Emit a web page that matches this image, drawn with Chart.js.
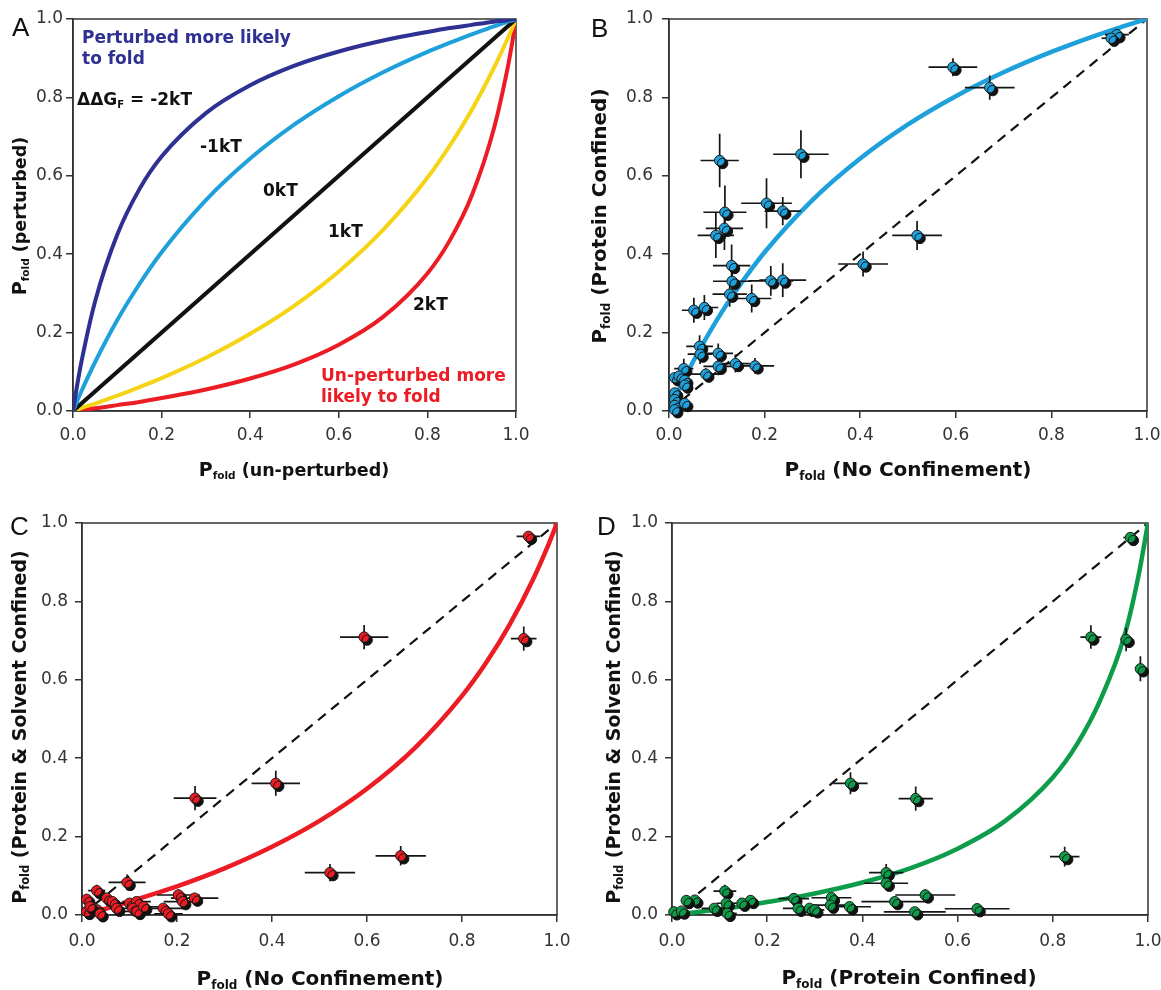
<!DOCTYPE html>
<html>
<head>
<meta charset="utf-8">
<script src="https://cdn.jsdelivr.net/npm/chart.js@4.4.1/dist/chart.umd.min.js"></script>
<style>
body { margin: 0; background: #fff; }
#wrap { position: relative; width: 1161px; height: 990px; overflow: hidden; font-family: "DejaVu Sans", Verdana, sans-serif; }
canvas { position: absolute; }
.t { position: absolute; white-space: nowrap; font-weight: bold; line-height: 1; color: #111; }
.ax { transform: translate(-50%, -50%); }
.ay { transform: translate(-50%, -50%) rotate(-90deg); }
.lt { transform: translate(0, -50%); }
.sub { position: relative; top: 0.3em; }
.letter { position: absolute; font-family: "Liberation Sans", Arial, sans-serif; font-size: 26px; line-height: 1; transform: translate(0, -50%); color: #111; }
</style>
</head>
<body>
<div id="wrap">
  <canvas id="cA" width="560" height="490" style="left:0;top:0"></canvas>
  <canvas id="cB" width="581" height="490" style="left:580px;top:0"></canvas>
  <canvas id="cC" width="580" height="490" style="left:0;top:500px"></canvas>
  <canvas id="cD" width="581" height="490" style="left:580px;top:500px"></canvas>

  <div class="letter" style="left:12px;top:27px">A</div>
  <div class="letter" style="left:591px;top:28px">B</div>
  <div class="letter" style="left:10px;top:526px">C</div>
  <div class="letter" style="left:597px;top:526px">D</div>

  <!-- panel A text -->
  <div class="t ax" style="left:294px;top:470px;font-size:17.5px"><span style="font-size:19px">P</span><span class="sub" style="font-size:10.5px">fold</span> (un-perturbed)</div>
  <div class="t ay" style="left:20px;top:216px;font-size:17.5px"><span style="font-size:19px">P</span><span class="sub" style="font-size:10.5px">fold</span> (perturbed)</div>
  <div class="t lt" style="left:82px;top:37px;font-size:17px;color:#2e3192">Perturbed more likely</div>
  <div class="t lt" style="left:82px;top:58px;font-size:17px;color:#2e3192">to fold</div>
  <div class="t lt" style="left:77px;top:99px;font-size:17px">&Delta;&Delta;G<span class="sub" style="font-size:10px">F</span> = -2kT</div>
  <div class="t lt" style="left:200px;top:146px;font-size:17px">-1kT</div>
  <div class="t lt" style="left:263px;top:190px;font-size:17px">0kT</div>
  <div class="t lt" style="left:328px;top:231px;font-size:17px">1kT</div>
  <div class="t lt" style="left:413px;top:304px;font-size:17px">2kT</div>
  <div class="t lt" style="left:321px;top:375px;font-size:17px;color:#ec1c24">Un-perturbed more</div>
  <div class="t lt" style="left:321px;top:396px;font-size:17px;color:#ec1c24">likely to fold</div>

  <!-- panel B text -->
  <div class="t ax" style="left:908px;top:469px;font-size:20px"><span>P</span><span class="sub" style="font-size:12px">fold</span> (No Confinement)</div>
  <div class="t ay" style="left:599px;top:216px;font-size:20px"><span>P</span><span class="sub" style="font-size:12px">fold</span> (Protein Confined)</div>

  <!-- panel C text -->
  <div class="t ax" style="left:320px;top:978px;font-size:20px"><span>P</span><span class="sub" style="font-size:12px">fold</span> (No Confinement)</div>
  <div class="t ay" style="left:19px;top:727px;font-size:19px"><span>P</span><span class="sub" style="font-size:11.5px">fold</span> (Protein &amp; Solvent Confined)</div>

  <!-- panel D text -->
  <div class="t ax" style="left:909px;top:977px;font-size:20px"><span>P</span><span class="sub" style="font-size:12px">fold</span> (Protein Confined)</div>
  <div class="t ay" style="left:613px;top:727px;font-size:19px"><span>P</span><span class="sub" style="font-size:11.5px">fold</span> (Protein &amp; Solvent Confined)</div>
</div>

<script>
// tick values shared by every axis
const tickVals = [0, 0.2, 0.4, 0.6, 0.8, 1.0];

// identity / dashed diagonal
const diagX = [0, 1];
const diagY = [0, 1];

// Panel A: theoretical curves
const aX      = [0, 0.01, 0.02, 0.05, 0.1, 0.15, 0.2, 0.3, 0.4, 0.5, 0.6, 0.7, 0.8, 0.85, 0.9, 0.95, 0.98, 0.99, 1];
const aMinus2 = [0, 0.07, 0.131, 0.28, 0.45, 0.566, 0.649, 0.76, 0.831, 0.881, 0.917, 0.945, 0.967, 0.977, 0.985, 0.993, 0.997, 0.999, 1];
const aMinus1 = [0, 0.027, 0.053, 0.125, 0.232, 0.324, 0.405, 0.538, 0.644, 0.731, 0.803, 0.864, 0.916, 0.939, 0.961, 0.981, 0.993, 0.996, 1];
const aPlus1  = [0, 0.004, 0.008, 0.019, 0.039, 0.061, 0.084, 0.136, 0.197, 0.269, 0.356, 0.462, 0.595, 0.676, 0.768, 0.875, 0.947, 0.973, 1];
const aPlus2  = [0, 0.001, 0.003, 0.007, 0.015, 0.023, 0.033, 0.055, 0.083, 0.119, 0.169, 0.24, 0.351, 0.434, 0.549, 0.72, 0.869, 0.93, 1];

// Panel B: no confinement vs protein confined
const bX    = [0.937, 0.925, 0.594, 0.671, 0.106, 0.276, 0.204, 0.238, 0.117, 0.116, 0.098, 0.131, 0.519, 0.406, 0.132, 0.213, 0.238, 0.127, 0.173, 0.052, 0.074, 0.064, 0.065, 0.103, 0.103, 0.139, 0.180, 0.077, 0.031, 0.012, 0.021, 0.033, 0.033, 0.012, 0.012, 0.012, 0.012, 0.033];
const bY    = [0.960, 0.951, 0.877, 0.825, 0.639, 0.655, 0.530, 0.510, 0.507, 0.466, 0.448, 0.371, 0.448, 0.375, 0.331, 0.332, 0.334, 0.298, 0.287, 0.257, 0.264, 0.165, 0.145, 0.147, 0.114, 0.121, 0.115, 0.094, 0.108, 0.085, 0.089, 0.078, 0.066, 0.046, 0.029, 0.014, 0.003, 0.019];
const bXErr = [0.025, 0.02, 0.051, 0.052, 0.040, 0.058, 0.053, 0.038, 0.045, 0.039, 0.038, 0.039, 0.052, 0.052, 0.040, 0.047, 0.049, 0.036, 0.041, 0.025, 0.029, 0.028, 0.026, 0.031, 0.031, 0.030, 0.040, 0.033, 0.020, 0.012, 0.015, 0.015, 0.015, 0.005, 0, 0, 0, 0.01];
const bYErr = [0.008, 0, 0.023, 0.031, 0.068, 0.061, 0.064, 0.036, 0.068, 0.055, 0.058, 0.054, 0.037, 0.032, 0.030, 0.038, 0.043, 0.032, 0.036, 0.032, 0.032, 0.028, 0.025, 0.025, 0.023, 0.023, 0.020, 0.015, 0.025, 0.01, 0.01, 0.01, 0.01, 0.005, 0, 0, 0, 0.005];
const bCurveX = [0, 0.02, 0.05, 0.1, 0.15, 0.2, 0.3, 0.4, 0.5, 0.6, 0.7, 0.8, 0.9, 0.95, 1];
const bCurveY = [0, 0.053, 0.125, 0.232, 0.324, 0.405, 0.538, 0.644, 0.731, 0.803, 0.864, 0.916, 0.961, 0.981, 1];

// Panel C: no confinement vs protein & solvent confined
const cX    = [0.940, 0.594, 0.930, 0.408, 0.238, 0.671, 0.522, 0.095, 0.031, 0.010, 0.052, 0.064, 0.073, 0.010, 0.032, 0.017, 0.100, 0.115, 0.107, 0.116, 0.130, 0.203, 0.212, 0.237, 0.171, 0.182, 0.038];
const cY    = [0.966, 0.709, 0.705, 0.336, 0.298, 0.151, 0.108, 0.083, 0.062, 0.040, 0.043, 0.034, 0.017, 0.009, 0.013, 0.021, 0.030, 0.034, 0.017, 0.009, 0.021, 0.051, 0.034, 0.043, 0.017, 0.003, 0.003];
const cXErr = [0.025, 0.051, 0.027, 0.051, 0.045, 0.053, 0.053, 0.039, 0.018, 0.01, 0.015, 0.015, 0.015, 0, 0.01, 0.01, 0.03, 0.03, 0.03, 0.03, 0.03, 0.045, 0.04, 0.05, 0.045, 0.03, 0.01];
const cYErr = [0.005, 0.031, 0.031, 0.032, 0.031, 0.025, 0.022, 0.02, 0.015, 0.01, 0.01, 0.01, 0.01, 0, 0, 0, 0.01, 0.01, 0.01, 0.005, 0.01, 0.015, 0.01, 0.01, 0.01, 0, 0];
const cCurveX = [0, 0.05, 0.1, 0.15, 0.2, 0.3, 0.4, 0.5, 0.6, 0.7, 0.8, 0.85, 0.9, 0.95, 0.98, 1];
const cCurveY = [0, 0.016, 0.034, 0.053, 0.073, 0.119, 0.174, 0.24, 0.322, 0.425, 0.559, 0.642, 0.74, 0.857, 0.939, 1];

// Panel D: protein confined vs protein & solvent confined
const dX    = [0.963, 0.880, 0.954, 0.984, 0.375, 0.512, 0.825, 0.450, 0.450, 0.532, 0.468, 0.641, 0.510, 0.373, 0.335, 0.333, 0.256, 0.265, 0.289, 0.300, 0.165, 0.147, 0.111, 0.114, 0.116, 0.089, 0.048, 0.030, 0.004, 0.020];
const dY    = [0.963, 0.709, 0.703, 0.628, 0.336, 0.297, 0.149, 0.108, 0.081, 0.051, 0.034, 0.016, 0.008, 0.021, 0.044, 0.025, 0.042, 0.017, 0.017, 0.013, 0.037, 0.030, 0.061, 0.030, 0.004, 0.017, 0.038, 0.037, 0.008, 0.010];
const dXErr = [0.015, 0.022, 0.012, 0.008, 0.036, 0.036, 0.031, 0.036, 0.046, 0.063, 0.070, 0.068, 0.065, 0.045, 0.042, 0.044, 0.032, 0.032, 0.02, 0.02, 0.015, 0.015, 0.024, 0.02, 0.02, 0.027, 0.01, 0.01, 0, 0.005];
const dYErr = [0.005, 0.030, 0.030, 0.032, 0.028, 0.031, 0.025, 0.022, 0.015, 0.015, 0.01, 0.005, 0.005, 0.005, 0.01, 0.01, 0.01, 0.005, 0.005, 0, 0.01, 0.01, 0.016, 0.01, 0, 0.008, 0.01, 0.01, 0, 0];
const dCurveX = [0, 0.05, 0.1, 0.15, 0.2, 0.3, 0.4, 0.5, 0.6, 0.7, 0.8, 0.85, 0.9, 0.95, 0.98, 1];
const dCurveY = [0, 0.007, 0.015, 0.023, 0.033, 0.055, 0.083, 0.119, 0.169, 0.24, 0.351, 0.434, 0.549, 0.71, 0.865, 1];

const pts = (xs, ys) => xs.map((x, i) => ({x: x, y: ys[i]}));

// box round the plot area (top and right sides too)
const frame = {
    id: 'frame',
    beforeDatasetsDraw(chart) {
        const {ctx, chartArea: a} = chart;
        ctx.save();
        ctx.strokeStyle = '#333';
        ctx.lineWidth = 1.5;
        ctx.strokeRect(a.left, a.top, a.right - a.left, a.bottom - a.top);
        ctx.restore();
    }
};

// error bars under the points, then a hard black drop shadow for the points
const errBars = {
    id: 'errBars',
    beforeDatasetDraw(chart, args) {
        const ds = chart.data.datasets[args.index];
        if (!ds.errX) return;
        const ctx = chart.ctx;
        const xs = chart.scales.x, ys = chart.scales.y;
        ctx.save();
        ctx.strokeStyle = '#151515';
        ctx.lineWidth = 1.7;
        ds.data.forEach((p, i) => {
            const px = xs.getPixelForValue(p.x), py = ys.getPixelForValue(p.y);
            const ex = ds.errX[i], ey = ds.errY[i];
            ctx.beginPath();
            if (ex) { ctx.moveTo(xs.getPixelForValue(p.x - ex), py); ctx.lineTo(xs.getPixelForValue(p.x + ex), py); }
            if (ey) { ctx.moveTo(px, ys.getPixelForValue(p.y - ey)); ctx.lineTo(px, ys.getPixelForValue(p.y + ey)); }
            ctx.stroke();
        });
        ctx.restore();
        ctx.save();
        ctx.shadowColor = '#111';
        ctx.shadowOffsetX = 3;
        ctx.shadowOffsetY = 3;
        ctx.shadowBlur = 0;
    },
    afterDatasetDraw(chart, args) {
        const ds = chart.data.datasets[args.index];
        if (ds.errX) chart.ctx.restore();
    }
};

function axis(dir, fit, pad) {
    return {
        type: 'linear', min: 0, max: 1,
        afterBuildTicks: s => { s.ticks = tickVals.map(v => ({value: v})); },
        ticks: {
            callback: v => v.toFixed(1),
            font: {family: 'DejaVu Sans', size: 17},
            color: '#333', padding: pad, maxRotation: 0, autoSkip: false
        },
        grid: {drawOnChartArea: false, drawTicks: true, tickLength: 7, color: '#333', lineWidth: 1.5},
        border: {display: true, color: '#333', width: 1.5},
        afterFit: s => {
            if (dir === 'x') s.height = fit; else s.width = fit;
            // plot edges come from the layout padding only
            s.paddingLeft = 0; s.paddingRight = 0; s.paddingTop = 0; s.paddingBottom = 0;
        }
    };
}

function panel(id, o) {
    return new Chart(document.getElementById(id), {
        type: 'scatter',
        data: {datasets: o.datasets},
        options: {
            responsive: false,
            animation: false,
            devicePixelRatio: 1,
            layout: {padding: {top: o.top, right: o.right, left: 0, bottom: 0}},
            plugins: {legend: {display: false}, tooltip: {enabled: false}},
            scales: {x: axis('x', o.xh, o.xpad), y: axis('y', o.yw, o.ypad)}
        },
        plugins: [frame, errBars]
    });
}

function curve(xs, ys, color, width, order) {
    return {type: 'line', data: pts(xs, ys), borderColor: color, borderWidth: width, pointRadius: 0,
            showLine: true, fill: false, cubicInterpolationMode: 'monotone', order: order};
}
function dashed() {
    return {type: 'line', data: pts(diagX, diagY), borderColor: '#111', borderWidth: 2.2, borderDash: [10, 7],
            pointRadius: 0, showLine: true, fill: false, order: 5};
}
function points(xs, ys, ex, ey, color) {
    return {data: pts(xs, ys), errX: ex, errY: ey, backgroundColor: color, borderColor: '#1a1a1a',
            borderWidth: 1, pointRadius: 5.2, clip: false, order: 0};
}

const darkBlue = '#2e3192', lightBlue = '#1ea0da', yellow = '#f5d315', red = '#ec1c24', green = '#0d9c4a';

panel('cA', {
    top: 19, right: 44, xh: 79, yw: 73, xpad: 7, ypad: 3,
    datasets: [
        curve(aX, aMinus2, darkBlue, 4, 1),
        curve(aX, aMinus1, lightBlue, 4, 1),
        curve(diagX, diagY, '#111', 4, 1),
        curve(aX, aPlus1, yellow, 4, 1),
        curve(aX, aPlus2, red, 4, 1)
    ]
});

panel('cB', {
    top: 19, right: 14, xh: 79, yw: 89, xpad: 7, ypad: 9,
    datasets: [
        points(bX, bY, bXErr, bYErr, lightBlue),
        curve(bCurveX, bCurveY, lightBlue, 4.5, 1),
        dashed()
    ]
});

panel('cC', {
    top: 23, right: 23, xh: 75, yw: 82, xpad: 9, ypad: 7,
    datasets: [
        points(cX, cY, cXErr, cYErr, red),
        curve(cCurveX, cCurveY, red, 4.5, 1),
        dashed()
    ]
});

panel('cD', {
    top: 23, right: 13, xh: 75, yw: 92, xpad: 9, ypad: 7,
    datasets: [
        points(dX, dY, dXErr, dYErr, green),
        curve(dCurveX, dCurveY, green, 4.5, 1),
        dashed()
    ]
});
</script>
</body>
</html>
